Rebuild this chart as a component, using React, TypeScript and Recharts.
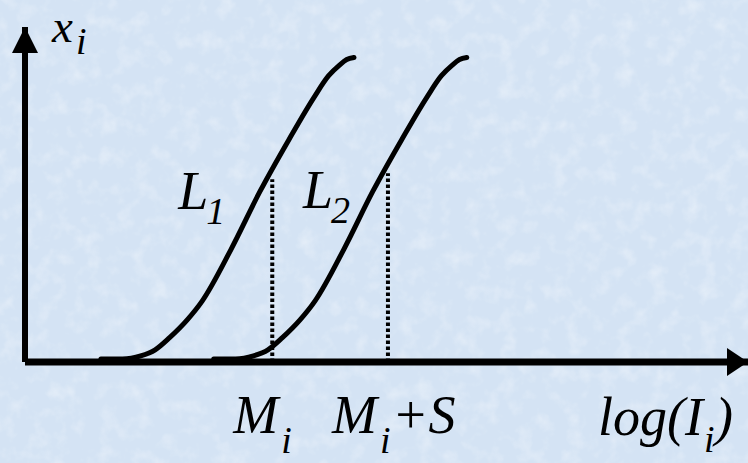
import React from 'react';
import { LineChart, Line, XAxis, YAxis, ReferenceLine, ReferenceDot } from 'recharts';

// Cumulative response curve L1: log-intensity positions and fraction values
const logI1 = [1.05, 1.35, 1.6, 1.8, 2.0, 2.25, 2.45, 2.85, 3.25, 3.65, 4.0, 4.2, 4.35, 4.45, 4.55];
const frac1 = [0.01, 0.01, 0.02, 0.04, 0.08, 0.14, 0.2, 0.37, 0.56, 0.73, 0.87, 0.94, 0.975, 0.993, 1.0];

// Curve L2, the same shape further along the log-intensity axis
const logI2 = [2.61, 2.91, 3.16, 3.36, 3.56, 3.81, 4.01, 4.41, 4.81, 5.21, 5.56, 5.76, 5.91, 6.01, 6.11];
const frac2 = [0.01, 0.01, 0.02, 0.04, 0.08, 0.14, 0.2, 0.37, 0.56, 0.73, 0.87, 0.94, 0.975, 0.993, 1.0];

// Marker positions on the log(I) axis and the heights of the dotted guides
const markM = 3.42;
const markS = 1.6;
const guideTops = [0.6, 0.62];

const xDomain = [0, 10];
const yDomain = [0, 1.1];

const curve1 = logI1.map((x, i) => ({ x, y: frac1[i] }));
const curve2 = logI2.map((x, i) => ({ x, y: frac2[i] }));

const W = 748;
const H = 463;
const FONT = '"Liberation Serif", "Times New Roman", Times, "DejaVu Serif", serif';
const MAIN = 54;
const SUB = 38;

type P = { cx?: number; cy?: number };
type Piece = { t: string; dx: number; dy: number; size?: number; end?: boolean };

const ArrowUp = ({ cx = 0, cy = 0 }: P) => (
  <polygon points={`${cx},${cy} ${cx - 13},${cy + 26} ${cx + 13},${cy + 26}`} fill="#000" />
);

const ArrowRight = ({ cx = 0, cy = 0 }: P) => (
  <polygon points={`${cx},${cy} ${cx - 21},${cy - 14} ${cx - 21},${cy + 14}`} fill="#000" />
);

// Italic label built from separate base / subscript pieces, offset from an anchor point
const mathLabel = (pieces: Piece[]) => ({ cx = 0, cy = 0 }: P) => (
  <g>
    {pieces.map((p, i) => (
      <text
        key={i}
        x={cx + p.dx}
        y={cy + p.dy}
        fontFamily={FONT}
        fontStyle="italic"
        fontSize={p.size ?? MAIN}
        fill="#000"
        textAnchor={p.end ? 'end' : 'start'}
      >
        {p.t}
      </text>
    ))}
  </g>
);

export default function App() {
  return (
    <div style={{ position: 'absolute', left: 0, top: 0, width: W, height: H, background: '#d6e5f5' }}>
      <svg width={W} height={H} style={{ position: 'absolute', left: 0, top: 0 }}>
        <defs>
          <filter id="paper" x="0" y="0" width="100%" height="100%">
            <feTurbulence type="fractalNoise" baseFrequency="0.06" numOctaves={3} seed={7} />
            <feColorMatrix
              type="matrix"
              values="0 0 0 0 1  0 0 0 0 1  0 0 0 0 1  0 0 0 1.6 -0.75"
            />
          </filter>
        </defs>
        <rect width={W} height={H} fill="#d4e3f4" />
        <rect width={W} height={H} filter="url(#paper)" opacity={0.45} />
      </svg>
      <div style={{ position: 'absolute', left: 0, top: 0 }}>
        <LineChart width={W} height={H} margin={{ top: 27, right: 0, bottom: 101, left: 25 }}>
          <XAxis type="number" dataKey="x" domain={xDomain} hide allowDataOverflow />
          <YAxis type="number" dataKey="y" domain={yDomain} hide allowDataOverflow />

          <ReferenceLine y={0} stroke="#000" strokeWidth={7} />
          <ReferenceLine x={0} stroke="#000" strokeWidth={6} />
          <ReferenceDot x={xDomain[1]} y={0} r={0} ifOverflow="visible" shape={ArrowRight} />
          <ReferenceDot x={0} y={yDomain[1]} r={0} ifOverflow="visible" shape={ArrowUp} />

          <ReferenceLine
            segment={[{ x: markM, y: 0 }, { x: markM, y: guideTops[0] }]}
            stroke="#000"
            strokeWidth={4}
            strokeDasharray="3.5 2.5"
          />
          <ReferenceLine
            segment={[{ x: markM + markS, y: 0 }, { x: markM + markS, y: guideTops[1] }]}
            stroke="#000"
            strokeWidth={4}
            strokeDasharray="3.5 2.5"
          />

          <Line
            data={curve1}
            dataKey="y"
            type="monotone"
            stroke="#000"
            strokeWidth={5}
            strokeLinecap="round"
            dot={false}
            isAnimationActive={false}
          />
          <Line
            data={curve2}
            dataKey="y"
            type="monotone"
            stroke="#000"
            strokeWidth={5}
            strokeLinecap="round"
            dot={false}
            isAnimationActive={false}
          />

          <ReferenceDot
            x={0}
            y={yDomain[1]}
            r={0}
            ifOverflow="visible"
            shape={mathLabel([
              { t: 'x', dx: 27, dy: 15, size: 47 },
              { t: 'i', dx: 51, dy: 27, size: SUB },
            ])}
          />
          <ReferenceDot
            x={markM}
            y={guideTops[0]}
            r={0}
            ifOverflow="visible"
            shape={mathLabel([
              { t: 'L', dx: -94, dy: 30 },
              { t: '1', dx: -66, dy: 45, size: SUB },
            ])}
          />
          <ReferenceDot
            x={markM + markS}
            y={guideTops[1]}
            r={0}
            ifOverflow="visible"
            shape={mathLabel([
              { t: 'L', dx: -85, dy: 35 },
              { t: '2', dx: -57, dy: 50, size: SUB },
            ])}
          />
          <ReferenceDot
            x={markM}
            y={0}
            r={0}
            ifOverflow="visible"
            shape={mathLabel([
              { t: 'M', dx: -39, dy: 71 },
              { t: 'i', dx: 9, dy: 91, size: SUB },
            ])}
          />
          <ReferenceDot
            x={markM + markS}
            y={0}
            r={0}
            ifOverflow="visible"
            shape={mathLabel([
              { t: 'M', dx: -56, dy: 71 },
              { t: 'i', dx: -8, dy: 91, size: SUB },
              { t: '+S', dx: 4, dy: 71 },
            ])}
          />
          <ReferenceDot
            x={xDomain[1]}
            y={0}
            r={0}
            ifOverflow="visible"
            shape={mathLabel([
              { t: 'log(I', dx: -45, dy: 73, end: true },
              { t: 'i', dx: -44, dy: 90, size: SUB },
              { t: ')', dx: -33, dy: 73 },
            ])}
          />
        </LineChart>
      </div>
    </div>
  );
}
